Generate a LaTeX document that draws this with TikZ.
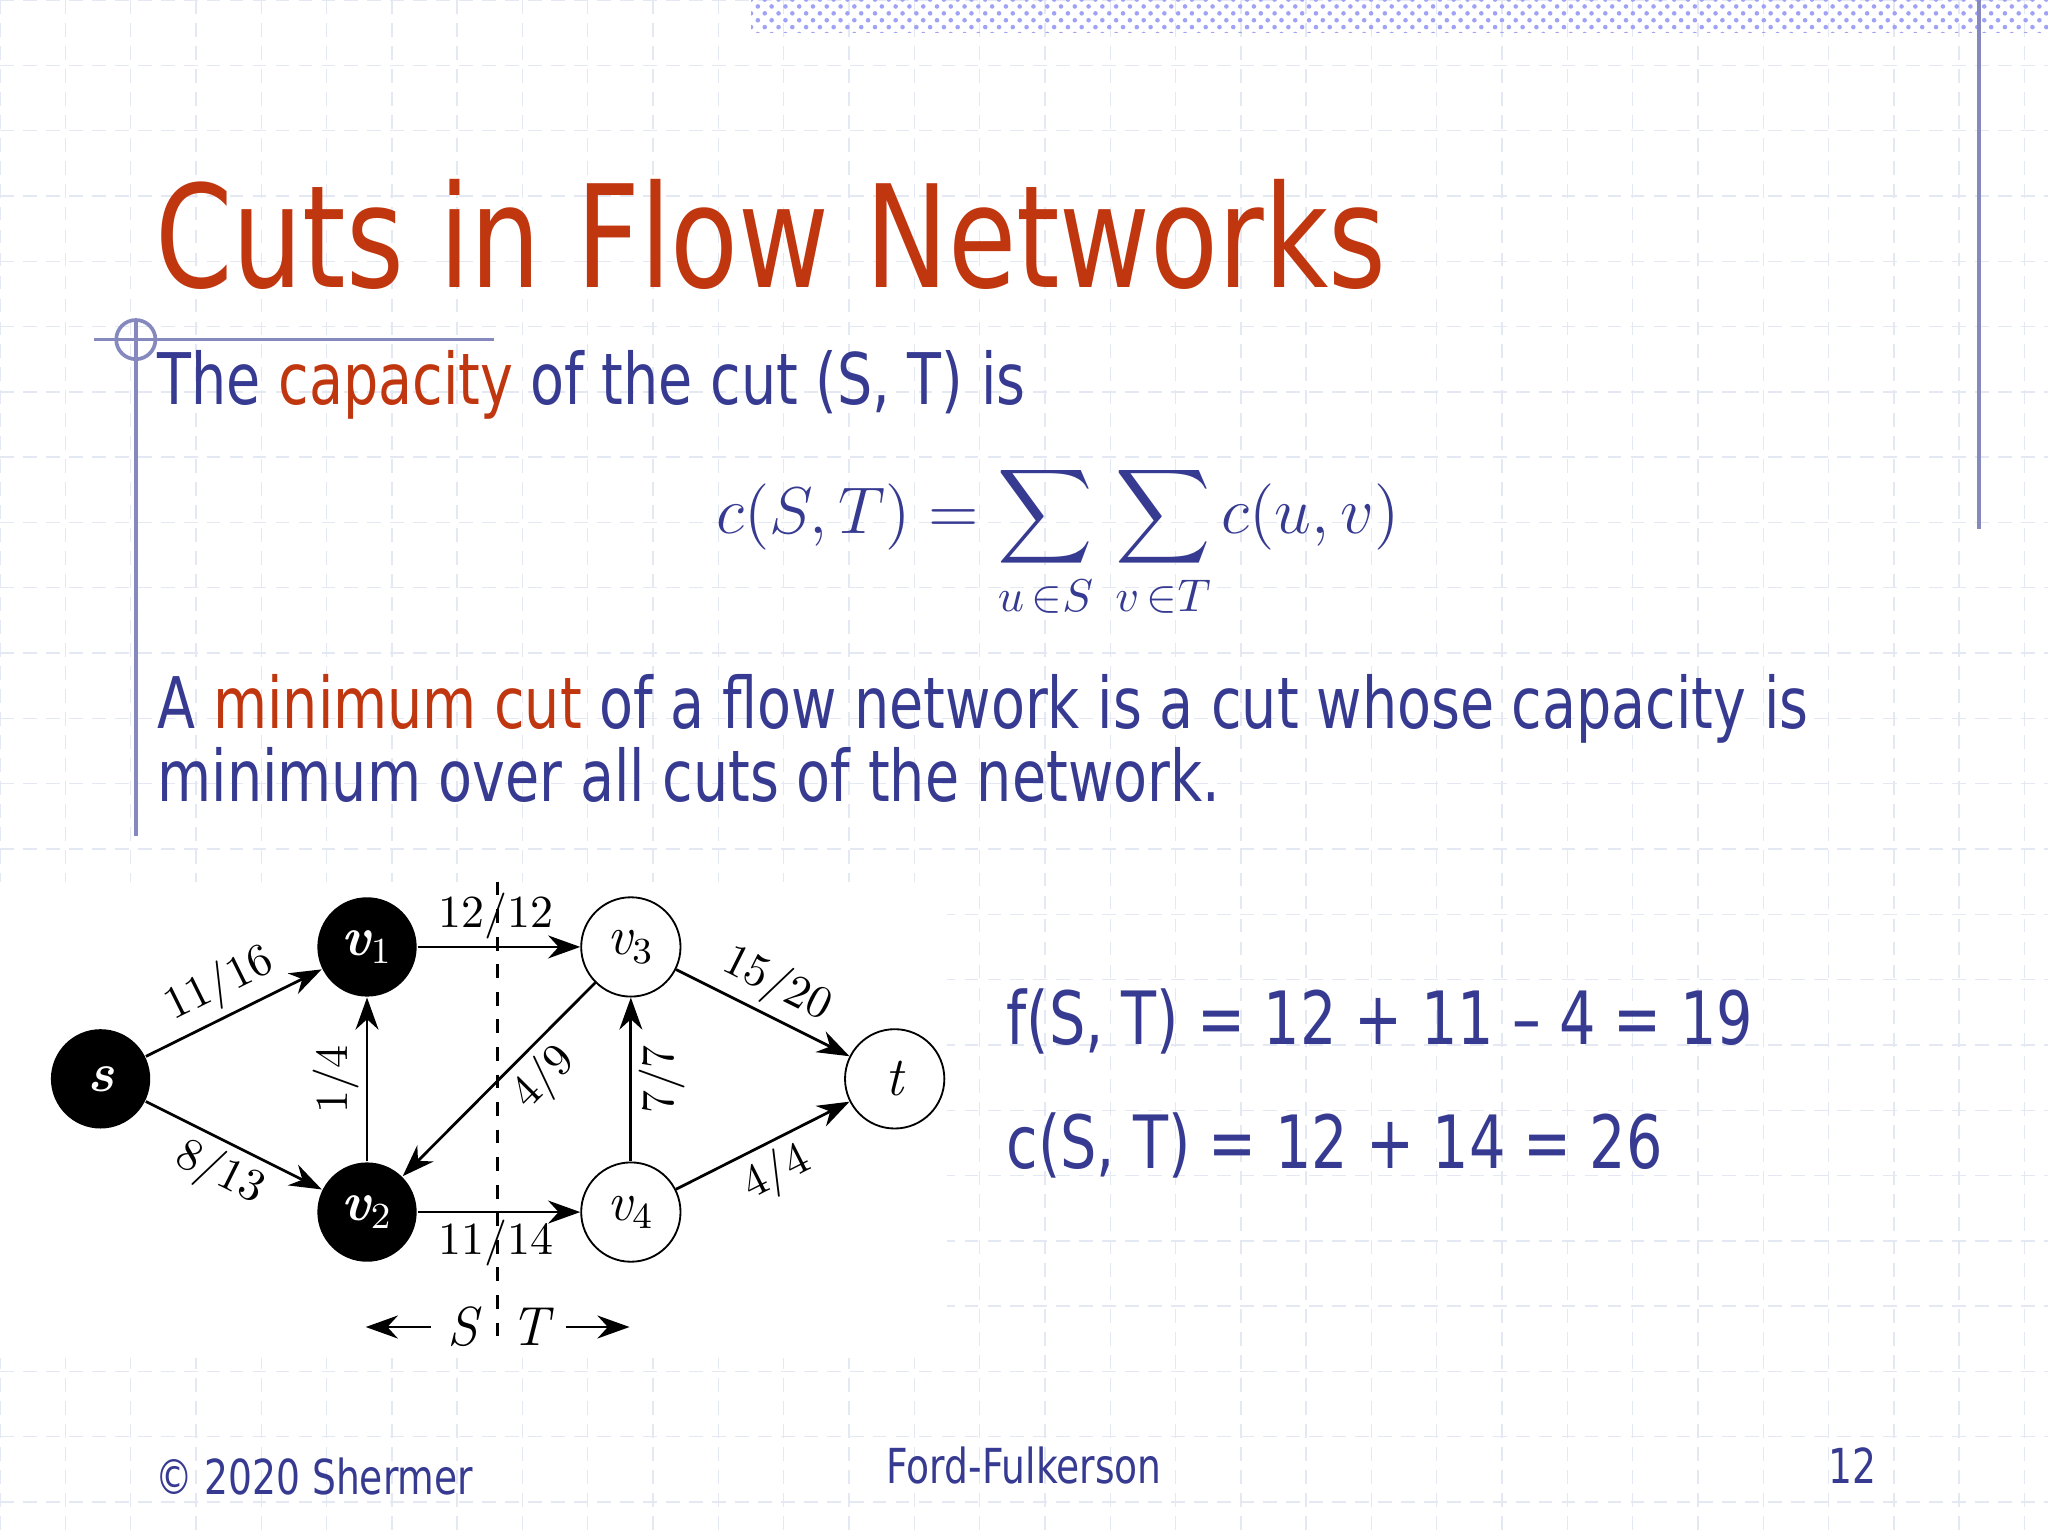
\documentclass[tikz,border=0pt]{standalone}
\usepackage{fontspec}
\usepackage{amsmath}
\setsansfont{DejaVu Sans}[FakeStretch=0.78]
\usetikzlibrary{arrows.meta,patterns}
\definecolor{navy}{HTML}{363A91}
\definecolor{rust}{HTML}{C0360F}
\definecolor{gridc}{HTML}{E4E8F2}
\begin{document}
\begin{tikzpicture}[x=0.01cm,y=-0.01cm,
  vb/.style={circle,fill=black,minimum size=0.76cm,inner sep=0pt,text=white,font=\bfseries\itshape\large},
  vw/.style={circle,draw,fill=white,minimum size=0.76cm,inner sep=0pt,font=\itshape\large},
  ed/.style={-{Stealth[length=7pt,width=5pt]},line width=0.6pt},
  lb/.style={font=\normalsize,inner sep=1.5pt},
  body/.style={font=\sffamily\fontsize{15.5}{22}\selectfont,text=navy,anchor=base west,inner sep=0}]
\useasboundingbox (0,0) rectangle (1568,1176);
\fill[white] (0,0) rectangle (1568,1176);
\foreach \x in {0,50,...,1550} \draw[gridc,densely dashed,line width=0.3pt] (\x,0)--(\x,1176);
\foreach \y in {0,50,...,1150} \draw[gridc,densely dashed,line width=0.3pt] (0,\y)--(1568,\y);
\fill[pattern=crosshatch dots,pattern color=gridc!70!blue] (575,0) rectangle (1568,25);
\draw[navy!60,line width=0.8pt] (1515,0)--(1515,405);
\draw[navy!60,line width=0.8pt] (104,245)--(104,640);
\draw[navy!60,line width=0.8pt] (72,260)--(378,260);
\draw[navy!60,line width=0.8pt] (104,260) circle (15);
\node[font=\sffamily\fontsize{31}{38}\selectfont,text=rust,anchor=base west,inner sep=0] (title) at (118,220) {Cuts in Flow Networks};
\node[body] (l1) at (120,310) {The \textcolor{rust}{capacity} of the cut (S, T) is};
\node[text=navy,font=\fontsize{14}{17}\selectfont] (f) at (810,415) {$\displaystyle c(S,T)=\sum_{u\,\in S}\,\sum_{v\,\in T}c(u,v)$};
\node[body] (l2) at (120,558) {A \textcolor{rust}{minimum cut} of a flow network is a cut whose capacity is};
\node[body] (l3) at (120,614) {minimum over all cuts of the network.};
\fill[white] (0,675) rectangle (725,1040);
\draw[dashed,line width=0.5pt] (381,675)--(381,1030);
\node[vb] (s) at (77,826) {s};
\node[vb] (v1) at (281,725) {v$_1$};
\node[vb] (v2) at (281,928) {v$_2$};
\node[vw] (v3) at (483,725) {v$_3$};
\node[vw] (v4) at (483,928) {v$_4$};
\node[vw] (t) at (685,826) {t};
\draw[ed] (s)--node[lb,sloped,above]{11/16}(v1);
\draw[ed] (s)--node[lb,sloped,below]{8/13}(v2);
\draw[ed] (v1)--node[lb,above,pos=0.48]{12/12}(v3);
\draw[ed] (v2)--node[lb,below,pos=0.48]{11/14}(v4);
\draw[ed] (v2)--node[lb,sloped,above]{1/4}(v1);
\draw[ed] (v4)--node[lb,sloped,below]{7/7}(v3);
\draw[ed] (v3)--node[lb,sloped,below,pos=0.38]{4/9}(v2);
\draw[ed] (v3)--node[lb,sloped,above]{15/20}(t);
\draw[ed] (v4)--node[lb,sloped,below]{4/4}(t);
\node[font=\itshape\large] (S) at (354,1016) {S};
\node[font=\itshape\large] (T) at (406,1016) {T};
\coordinate (sl) at (280,1016); \coordinate (tr) at (482,1016);
\draw[ed] (S)--(sl); \draw[ed] (T)--(tr);
\node[body,font=\sffamily\fontsize{16}{22}\selectfont] (fst) at (770,800) {f(S, T) = 12 + 11 – 4 = 19};
\node[body,font=\sffamily\fontsize{16}{22}\selectfont] (cst) at (770,895) {c(S, T) = 12 + 14 = 26};
\node[font=\sffamily\fontsize{10.5}{13}\selectfont,text=navy,anchor=base west,inner sep=0] (c) at (118,1144) {© 2020 Shermer};
\node[font=\sffamily\fontsize{10.5}{13}\selectfont,text=navy,anchor=base,inner sep=0] (ff) at (784,1136) {Ford-Fulkerson};
\node[font=\sffamily\fontsize{10.5}{13}\selectfont,text=navy,anchor=base,inner sep=0] (n) at (1418,1136) {12};
\end{tikzpicture}
\end{document}
